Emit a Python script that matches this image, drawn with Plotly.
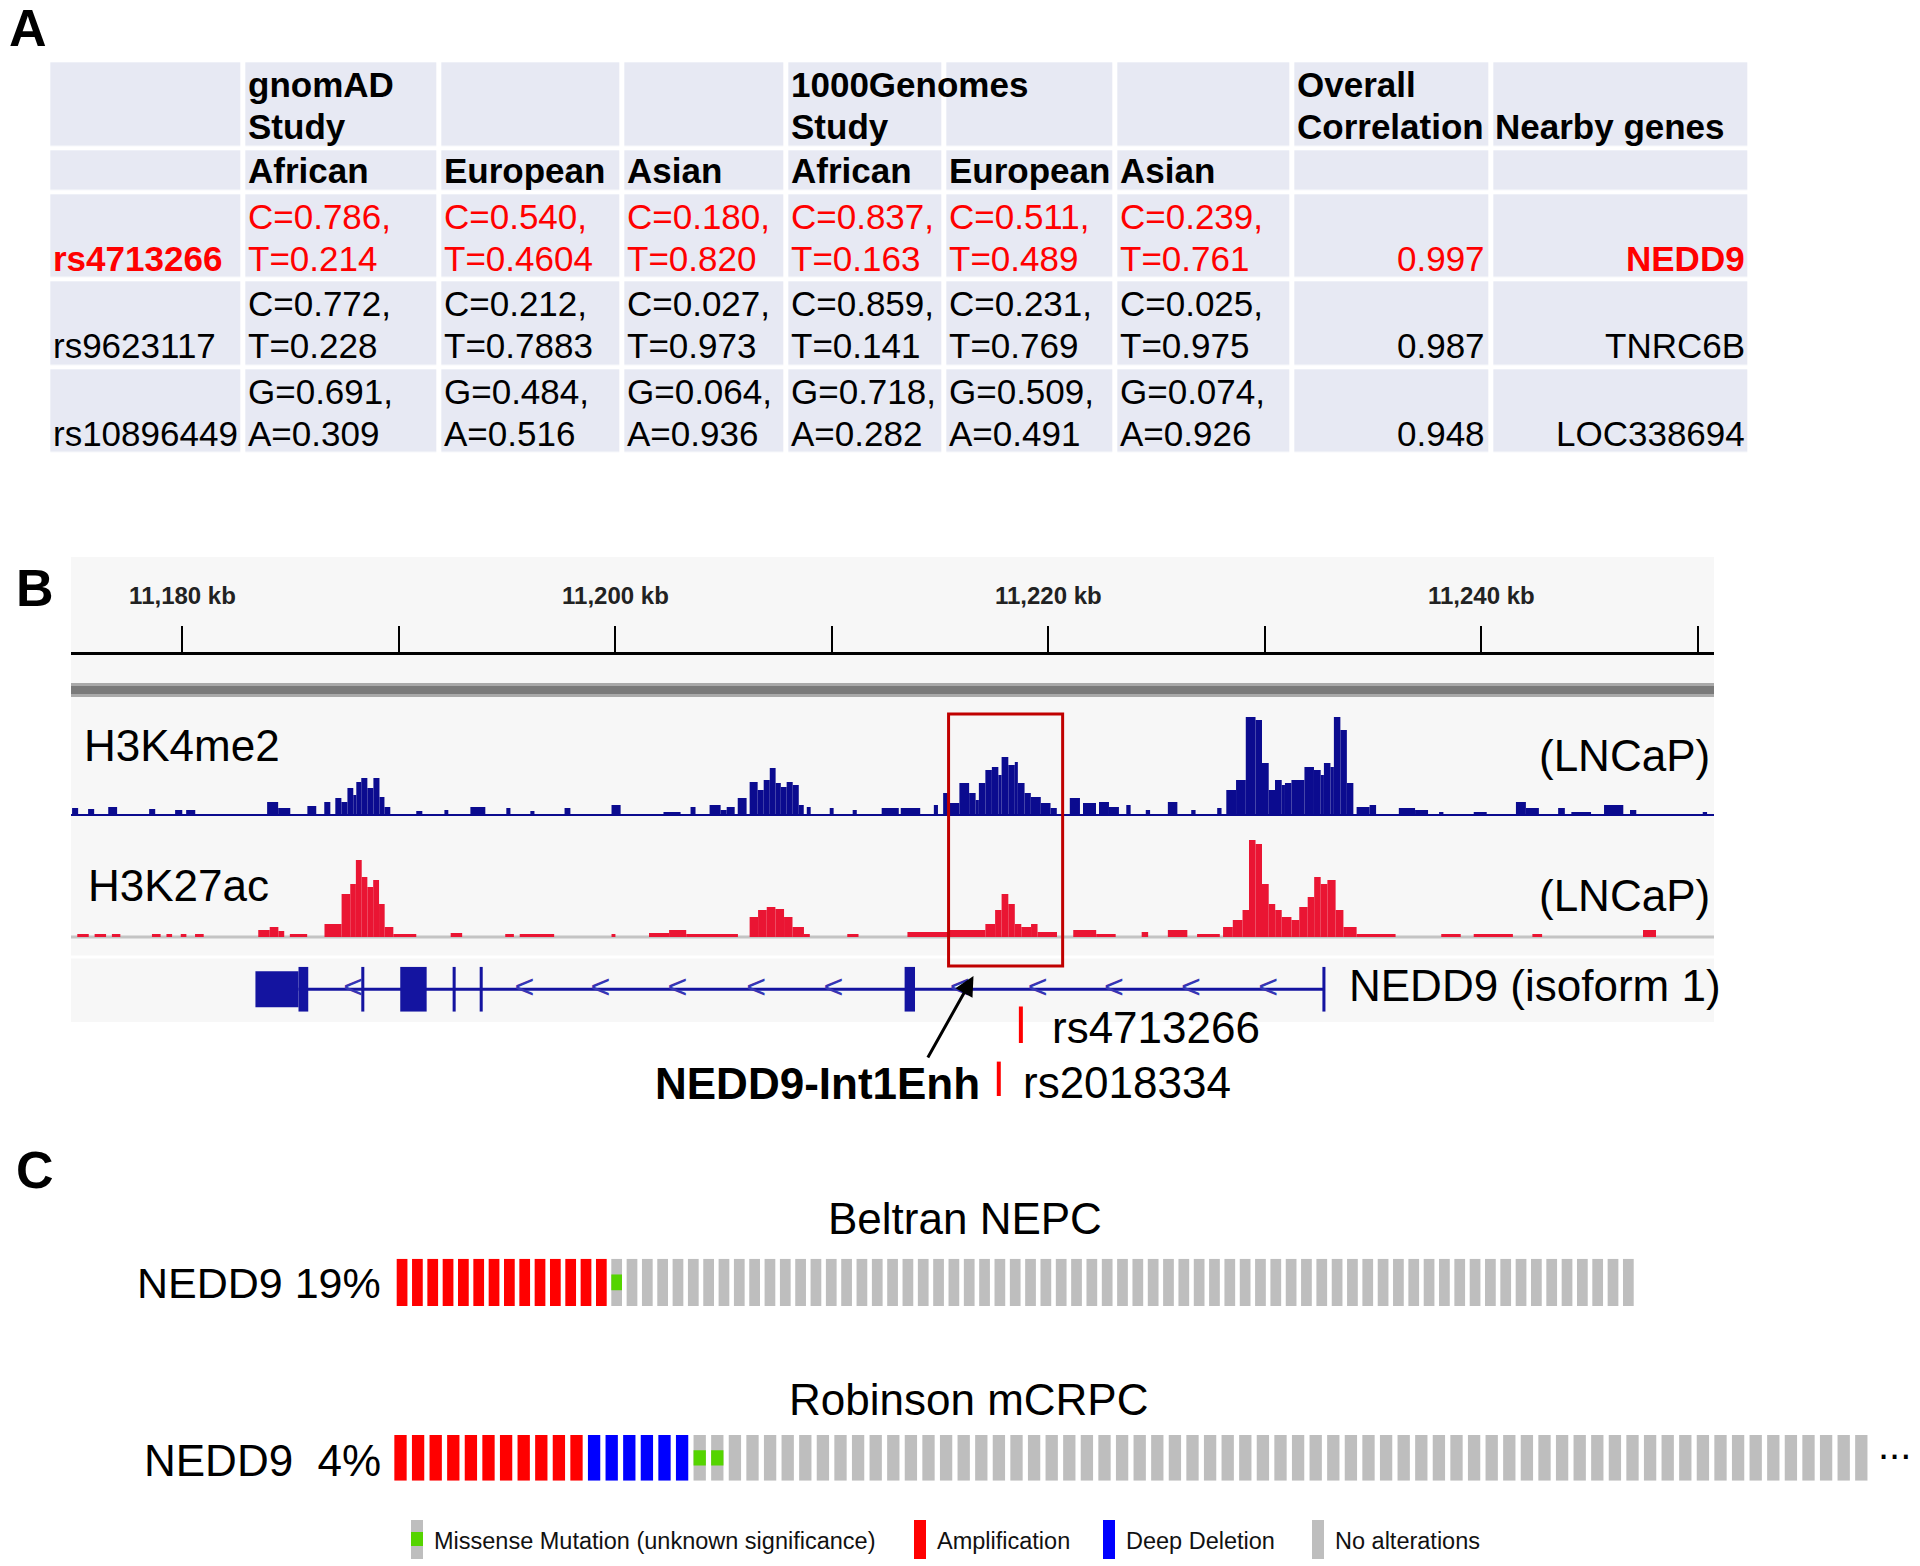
import plotly.graph_objects as go

W, H = 1920, 1566
FONT = "Liberation Sans, Arial, Helvetica, sans-serif"


def X(px):
    return px / W


def Y(py):
    return 1 - py / H


# ======================= DATA =======================
# ---- Panel A: SNP allele-frequency table ----
header_top = ["", "gnomAD\nStudy", "", "", "1000Genomes\nStudy", "", "", "Overall\nCorrelation", "Nearby genes"]
header_sub = ["", "African", "European", "Asian", "African", "European", "Asian", "", ""]
snp_ids = ["rs4713266", "rs9623117", "rs10896449"]
gnomad_african = ["C=0.786,\nT=0.214", "C=0.772,\nT=0.228", "G=0.691,\nA=0.309"]
gnomad_european = ["C=0.540,\nT=0.4604", "C=0.212,\nT=0.7883", "G=0.484,\nA=0.516"]
gnomad_asian = ["C=0.180,\nT=0.820", "C=0.027,\nT=0.973", "G=0.064,\nA=0.936"]
kg_african = ["C=0.837,\nT=0.163", "C=0.859,\nT=0.141", "G=0.718,\nA=0.282"]
kg_european = ["C=0.511,\nT=0.489", "C=0.231,\nT=0.769", "G=0.509,\nA=0.491"]
kg_asian = ["C=0.239,\nT=0.761", "C=0.025,\nT=0.975", "G=0.074,\nA=0.926"]
overall_correlation = ["0.997", "0.987", "0.948"]
nearby_genes = ["NEDD9", "TNRC6B", "LOC338694"]
highlighted_snp = "rs4713266"

# ---- Panel B: genome browser (positions in kb) ----
ruler_ticks_kb = [11180, 11190, 11200, 11210, 11220, 11230, 11240, 11250]
ruler_labels = ["11,180 kb", "", "11,200 kb", "", "11,220 kb", "", "11,240 kb", ""]

k4_start = [11174.90, 11175.64, 11176.57, 11178.46, 11179.66, 11180.17, 11183.91, 11184.42, 11185.77, 11186.55,
            11187.06, 11187.34, 11187.62, 11187.89, 11188.03, 11188.26, 11188.54, 11188.82, 11189.10, 11189.33,
            11190.80, 11192.10, 11193.30, 11194.96, 11196.07, 11197.65, 11199.82, 11202.22, 11203.47, 11204.35,
            11204.86, 11205.14, 11205.65, 11206.20, 11206.57, 11206.85, 11207.13, 11207.40, 11207.64, 11207.91,
            11208.19, 11208.47, 11208.84, 11209.90, 11210.96, 11212.30, 11213.18, 11214.71, 11215.14, 11215.44,
            11215.89, 11216.34, 11216.64, 11216.79, 11217.09, 11217.39, 11217.69, 11217.84, 11218.15, 11218.45,
            11218.59, 11218.90, 11219.19, 11219.65, 11220.10, 11220.99, 11221.60, 11222.34, 11222.80, 11223.60,
            11224.50, 11225.52, 11226.60, 11227.80, 11228.22, 11228.67, 11229.12, 11229.57, 11229.87, 11230.18,
            11230.47, 11230.78, 11230.93, 11231.23, 11231.83, 11232.27, 11232.58, 11232.73, 11233.03, 11233.19,
            11233.49, 11233.79, 11234.24, 11234.84, 11236.19, 11236.94, 11238.05, 11239.65, 11241.60, 11242.06,
            11243.55, 11244.16, 11245.67, 11246.87, 11250.23]
k4_end = [11175.18, 11175.92, 11176.98, 11178.74, 11179.99, 11180.59, 11184.42, 11184.98, 11186.18, 11186.83,
          11187.34, 11187.62, 11187.89, 11188.03, 11188.26, 11188.54, 11188.82, 11189.10, 11189.33, 11189.60,
          11191.08, 11192.28, 11193.99, 11195.15, 11196.26, 11197.92, 11200.24, 11203.01, 11203.70, 11204.86,
          11205.14, 11205.51, 11206.06, 11206.57, 11206.85, 11207.13, 11207.40, 11207.64, 11207.91, 11208.19,
          11208.47, 11208.70, 11209.02, 11210.08, 11211.15, 11213.09, 11214.08, 11214.90, 11215.44, 11215.89,
          11216.34, 11216.64, 11216.79, 11217.09, 11217.39, 11217.69, 11217.84, 11218.15, 11218.45, 11218.59,
          11218.90, 11219.19, 11219.65, 11220.10, 11220.39, 11221.46, 11222.20, 11222.80, 11223.26, 11223.80,
          11224.70, 11225.96, 11226.80, 11228.00, 11228.67, 11229.12, 11229.57, 11229.87, 11230.18, 11230.47,
          11230.78, 11230.93, 11231.23, 11231.83, 11232.27, 11232.58, 11232.73, 11233.03, 11233.19, 11233.49,
          11233.79, 11234.09, 11234.84, 11235.14, 11236.94, 11237.54, 11238.25, 11240.25, 11242.06, 11242.66,
          11243.86, 11245.07, 11246.56, 11247.16, 11250.43]
k4_signal = [7, 6, 8, 6, 5, 5, 13, 7, 9, 13,
             17, 13, 27, 20, 33, 37, 27, 37, 18, 8,
             4, 5, 8, 7, 4, 7, 10, 3, 8, 10,
             5, 8, 17, 33, 25, 35, 47, 32, 28, 33,
             30, 10, 8, 7, 5, 7, 7, 10, 22, 12,
             32, 22, 15, 32, 45, 48, 40, 58, 50, 53,
             32, 22, 18, 12, 7, 17, 12, 13, 8, 10,
             5, 13, 5, 7, 25, 35, 98, 95, 52, 25,
             35, 30, 32, 35, 48, 45, 40, 52, 48, 98,
             85, 32, 8, 10, 7, 5, 3, 3, 13, 7,
             7, 3, 10, 5, 3]

k27_start = [11175.14, 11175.94, 11176.74, 11178.59, 11179.26, 11179.92, 11180.58, 11183.50, 11184.03, 11184.43,
             11184.96, 11186.56, 11187.35, 11187.75, 11188.01, 11188.28, 11188.54, 11188.81, 11189.08, 11189.34,
             11189.74, 11192.39, 11194.91, 11195.58, 11199.82, 11201.55, 11202.48, 11203.27, 11206.20, 11206.59,
             11206.99, 11207.39, 11207.79, 11208.18, 11208.71, 11210.71, 11213.49, 11215.44, 11217.09, 11217.54,
             11217.84, 11218.15, 11218.45, 11218.75, 11219.20, 11219.50, 11221.15, 11222.21, 11224.31, 11225.52,
             11226.87, 11228.07, 11228.52, 11228.97, 11229.27, 11229.57, 11229.87, 11230.18, 11230.48, 11230.78,
             11231.23, 11231.59, 11231.98, 11232.28, 11232.58, 11232.89, 11233.27, 11233.63, 11234.24, 11238.15,
             11239.65, 11242.36, 11247.47]
k27_end = [11175.67, 11176.47, 11177.13, 11178.99, 11179.52, 11180.18, 11180.98, 11184.03, 11184.43, 11184.70,
           11185.76, 11187.35, 11187.75, 11188.01, 11188.28, 11188.54, 11188.81, 11189.08, 11189.34, 11189.74,
           11190.80, 11192.92, 11195.31, 11197.17, 11200.00, 11202.48, 11203.27, 11205.66, 11206.59, 11206.99,
           11207.39, 11207.79, 11208.18, 11208.71, 11208.98, 11211.23, 11215.44, 11217.09, 11217.54, 11217.84,
           11218.15, 11218.45, 11218.75, 11219.20, 11219.50, 11220.40, 11222.21, 11223.11, 11224.61, 11226.42,
           11227.92, 11228.52, 11228.97, 11229.27, 11229.57, 11229.87, 11230.18, 11230.48, 11230.78, 11231.23,
           11231.59, 11231.98, 11232.28, 11232.58, 11232.89, 11233.27, 11233.63, 11234.24, 11236.04, 11239.05,
           11241.46, 11242.81, 11248.07]
k27_signal = [3, 3, 3, 3, 3, 3, 3, 7, 10, 6,
              3, 13, 43, 53, 77, 60, 50, 57, 33, 10,
              3, 4, 3, 3, 3, 4, 7, 3, 20, 27,
              30, 28, 20, 10, 3, 3, 5, 7, 13, 27,
              43, 33, 13, 10, 13, 5, 7, 3, 5, 7,
              3, 10, 17, 27, 97, 93, 53, 33, 27, 20,
              17, 30, 40, 60, 53, 57, 27, 10, 3, 3,
              3, 3, 7]

gene_name = "NEDD9 (isoform 1)"
gene_start_kb, gene_end_kb = 11185.36, 11232.73
exon_start = [11183.37, 11185.36, 11188.26, 11190.06, 11192.48, 11193.73, 11213.36, 11232.66]
exon_end = [11185.36, 11185.81, 11188.40, 11191.28, 11192.62, 11193.87, 11213.84, 11232.80]
exon_is_utr = [True, False, False, False, False, False, False, False]
strand_marks_kb = [11187.88, 11195.80, 11199.31, 11202.87, 11206.50, 11210.07,
                   11215.90, 11219.51, 11223.03, 11226.59, 11230.15]
enhancer_box_kb = [11215.39, 11220.66]
snp_names = ["rs4713266", "rs2018334"]
snp_kb = [11218.73, 11217.71]

# ---- Panel C: oncoprints ----
beltran_cna = ["AMP"] * 14 + ["NONE"] * 67
beltran_missense = [14]
beltran_pct = "19%"
robinson_cna = ["AMP"] * 11 + ["HOMDEL"] * 6 + ["NONE"] * 67
robinson_missense = [17, 18]
robinson_pct = "4%"
legend_items = ["Missense Mutation (unknown significance)", "Amplification", "Deep Deletion", "No alterations"]

# ======================= STYLE =======================
CELL = "#E7E9F3"
RED = "#FF0000"
K4_BLUE = "#0B0B8F"
K27_RED = "#EA1533"
GENE_BLUE = "#1414A0"
ONC = {"AMP": "#FF0000", "HOMDEL": "#0000FF", "NONE": "#BEBEBE"}
MISSENSE = "#55D400"
FS_B = 44

fig = go.Figure()
annotations = []
shapes = []

# ======================= PANEL A =======================
col_edges = [48.3, 243.2, 439.5, 622.3, 786.4, 944.3, 1115.7, 1292.5, 1490.9, 1750.5]
row_edges = [60.3, 147.8, 192.4, 279.5, 367.0, 454.6]
GAP = 5
FS_A = 35
LINE_A = 42

n_cols = len(header_top)
rows = [header_top, header_sub]
for i in range(len(snp_ids)):
    rows.append([snp_ids[i], gnomad_african[i], gnomad_european[i], gnomad_asian[i],
                 kg_african[i], kg_european[i], kg_asian[i], overall_correlation[i], nearby_genes[i]])

fig.add_trace(go.Heatmap(
    z=[[1] * n_cols for _ in rows], x=col_edges, y=row_edges,
    colorscale=[[0, CELL], [1, CELL]], showscale=False, xgap=GAP, ygap=4.5,
    hoverinfo="skip", xaxis="x", yaxis="y"))

for r, row in enumerate(rows):
    bottom = row_edges[r + 1] - 2.25
    is_header = r < 2
    is_hl = (not is_header) and row[0] == highlighted_snp
    for c, txt in enumerate(row):
        if not txt:
            continue
        right = (not is_header) and c >= 7
        bold = is_header or (is_hl and c in (0, 8))
        color = RED if is_hl else "black"
        lines = txt.split("\n")
        for k, line in enumerate(reversed(lines)):
            base = bottom - 7 - LINE_A * k
            annotations.append(dict(
                x=(col_edges[c + 1] - GAP / 2 - 1) if right else (col_edges[c] + GAP / 2),
                y=base - 0.35 * FS_A, xref="x", yref="y",
                text=f"<b>{line}</b>" if bold else line,
                xanchor="right" if right else "left", yanchor="middle", showarrow=False,
                font=dict(family=FONT, size=FS_A, color=color)))

# ======================= PANEL B =======================
B_L, B_R = 71, 1714
KB0, KB1 = 11174.85, 11250.75

shapes.append(dict(type="rect", xref="paper", yref="paper", x0=X(B_L), x1=X(B_R), y0=Y(1022), y1=Y(557),
                   fillcolor="#F7F7F7", line=dict(width=0), layer="below"))
shapes.append(dict(type="line", xref="paper", yref="paper", x0=X(B_L), x1=X(B_R), y0=Y(957), y1=Y(957),
                   line=dict(color="white", width=3), layer="below"))
# chromosome/sequence bar
shapes.append(dict(type="rect", xref="paper", yref="paper", x0=X(B_L), x1=X(B_R), y0=Y(697), y1=Y(683),
                   fillcolor="#A9A9A9", line=dict(width=0)))
shapes.append(dict(type="rect", xref="paper", yref="paper", x0=X(B_L), x1=X(B_R), y0=Y(694), y1=Y(686),
                   fillcolor="#7A7A7A", line=dict(width=0)))
# track baselines
shapes.append(dict(type="line", xref="paper", yref="paper", x0=X(B_L), x1=X(B_R), y0=Y(815), y1=Y(815),
                   line=dict(color=K4_BLUE, width=2)))
shapes.append(dict(type="line", xref="paper", yref="paper", x0=X(B_L), x1=X(B_R), y0=Y(937), y1=Y(937),
                   line=dict(color="#C4C4C4", width=3), layer="below"))

k4_mid = [(a + b) / 2 for a, b in zip(k4_start, k4_end)]
k4_w = [b - a for a, b in zip(k4_start, k4_end)]
fig.add_trace(go.Bar(x=k4_mid, y=k4_signal, width=k4_w, marker=dict(color=K4_BLUE, line=dict(width=0)),
                     xaxis="x3", yaxis="y3", hoverinfo="skip"))
k27_mid = [(a + b) / 2 for a, b in zip(k27_start, k27_end)]
k27_w = [b - a for a, b in zip(k27_start, k27_end)]
fig.add_trace(go.Bar(x=k27_mid, y=k27_signal, width=k27_w, marker=dict(color=K27_RED, line=dict(width=0)),
                     xaxis="x4", yaxis="y4", hoverinfo="skip"))

# gene model
fig.add_trace(go.Scatter(x=[gene_start_kb, gene_end_kb], y=[0, 0], mode="lines",
                         line=dict(color=GENE_BLUE, width=3), xaxis="x5", yaxis="y5", hoverinfo="skip"))
ex_mid = [(a + b) / 2 for a, b in zip(exon_start, exon_end)]
ex_w = [b - a for a, b in zip(exon_start, exon_end)]
ex_h = [1.6 if u else 2.0 for u in exon_is_utr]
ex_base = [-0.8 if u else -1.0 for u in exon_is_utr]
fig.add_trace(go.Bar(x=ex_mid, y=ex_h, base=ex_base, width=ex_w,
                     marker=dict(color=GENE_BLUE, line=dict(width=0)), xaxis="x5", yaxis="y5", hoverinfo="skip"))
fig.add_trace(go.Scatter(x=strand_marks_kb, y=[0] * len(strand_marks_kb), mode="text",
                         text=["<"] * len(strand_marks_kb),
                         textfont=dict(family=FONT, size=34, color="#3535B5"), xaxis="x5", yaxis="y5",
                         hoverinfo="skip"))

# enhancer box
shapes.append(dict(type="rect", xref="x2", yref="paper", x0=enhancer_box_kb[0], x1=enhancer_box_kb[1],
                   y0=Y(966), y1=Y(714), line=dict(color="#C00000", width=3), fillcolor="rgba(0,0,0,0)"))
# SNP ticks
snp_y = [(1006.5, 1043), (1061.6, 1096)]
for kb, (ya, yb) in zip(snp_kb, snp_y):
    shapes.append(dict(type="line", xref="x2", yref="paper", x0=kb, x1=kb, y0=Y(yb), y1=Y(ya),
                       line=dict(color=RED, width=4)))
annotations.append(dict(x=X(1050), y=Y(1027), xref="paper", yref="paper", text=snp_names[0], showarrow=False,
                        xanchor="left", yanchor="middle", font=dict(family=FONT, size=FS_B, color="black")))
annotations.append(dict(x=X(1021), y=Y(1082), xref="paper", yref="paper", text=snp_names[1], showarrow=False,
                        xanchor="left", yanchor="middle", font=dict(family=FONT, size=FS_B, color="black")))
annotations.append(dict(x=X(982), y=Y(1083), xref="paper", yref="paper", text="<b>NEDD9-Int1Enh</b>",
                        showarrow=False, xanchor="right", yanchor="middle",
                        font=dict(family=FONT, size=FS_B, color="black")))
annotations.append(dict(x=X(973.5), y=Y(976), xref="paper", yref="paper", text="", showarrow=True,
                        ax=-46.5, ay=83, arrowhead=2, arrowsize=1.3, arrowwidth=3, arrowcolor="black",
                        standoff=0))

# track labels
for txt, xx, yy, anc in [("H3K4me2", 82, 746, "left"), ("(LNCaP)", 1712, 755, "right"),
                         ("H3K27ac", 86, 885, "left"), ("(LNCaP)", 1712, 895, "right"),
                         (gene_name, 1347, 985, "left")]:
    annotations.append(dict(x=X(xx), y=Y(yy), xref="paper", yref="paper", text=txt, showarrow=False,
                            xanchor=anc, yanchor="middle", font=dict(family=FONT, size=FS_B, color="black")))


# ======================= PANEL C =======================
def oncoprint(cna, missense, xa, ya):
    idx = list(range(len(cna)))
    fig.add_trace(go.Bar(x=idx, y=[3] * len(cna), width=0.7,
                         marker=dict(color=[ONC[v] for v in cna], line=dict(width=0)),
                         xaxis=xa, yaxis=ya, hoverinfo="skip"))
    fig.add_trace(go.Bar(x=missense, y=[1] * len(missense), base=[1] * len(missense), width=0.7,
                         marker=dict(color=MISSENSE, line=dict(width=0)),
                         xaxis=xa, yaxis=ya, hoverinfo="skip"))


oncoprint(beltran_cna, beltran_missense, "x6", "y6")
oncoprint(robinson_cna, robinson_missense, "x7", "y7")

for txt, xx, yy in [("Beltran NEPC", 965, 1218), ("Robinson mCRPC", 968, 1399)]:
    annotations.append(dict(x=X(xx), y=Y(yy), xref="paper", yref="paper", text=txt, showarrow=False,
                            xanchor="center", yanchor="middle", font=dict(family=FONT, size=FS_B, color="black")))
annotations.append(dict(x=X(383), y=Y(1283), xref="paper", yref="paper", text="NEDD9 " + beltran_pct,
                        showarrow=False, xanchor="right", yanchor="middle",
                        font=dict(family=FONT, size=43, color="black")))
annotations.append(dict(x=X(383), y=Y(1460), xref="paper", yref="paper", text="NEDD9  " + robinson_pct,
                        showarrow=False, xanchor="right", yanchor="middle",
                        font=dict(family=FONT, size=44, color="black")))
annotations.append(dict(x=X(1876), y=Y(1445), xref="paper", yref="paper", text="...",
                        showarrow=False, xanchor="left", yanchor="middle",
                        font=dict(family=FONT, size=40, color="black")))

# legend
leg_icon_x = [411, 914, 1103, 1312]
leg_colors = [ONC["NONE"], ONC["AMP"], ONC["HOMDEL"], ONC["NONE"]]
for name, ix, col in zip(legend_items, leg_icon_x, leg_colors):
    shapes.append(dict(type="rect", xref="paper", yref="paper", x0=X(ix), x1=X(ix + 12), y0=Y(1559), y1=Y(1520),
                       fillcolor=col, line=dict(width=0)))
    annotations.append(dict(x=X(ix + 21), y=Y(1541), xref="paper", yref="paper", text=name, showarrow=False,
                            xanchor="left", yanchor="middle", font=dict(family=FONT, size=23.5, color="#111111")))
shapes.append(dict(type="rect", xref="paper", yref="paper", x0=X(411), x1=X(423), y0=Y(1546), y1=Y(1532),
                   fillcolor=MISSENSE, line=dict(width=0)))

# panel letters
for letter, xx, yy in [("A", 7, 28), ("B", 14, 588), ("C", 14, 1170)]:
    annotations.append(dict(x=X(xx), y=Y(yy), xref="paper", yref="paper", text=f"<b>{letter}</b>",
                            showarrow=False, xanchor="left", yanchor="middle",
                            font=dict(family=FONT, size=52, color="black")))

# ======================= LAYOUT =======================
hidden = dict(visible=False, fixedrange=True, showgrid=False, zeroline=False)
layout = dict(
    width=W, height=H, margin=dict(l=0, r=0, t=0, b=0), paper_bgcolor="white", plot_bgcolor="rgba(0,0,0,0)",
    showlegend=False, barmode="overlay", annotations=annotations, shapes=shapes,
    xaxis=dict(hidden, domain=[0, 1], range=[0, W]),
    yaxis=dict(hidden, domain=[0, 1], range=[H, 0]),
    xaxis2=dict(domain=[X(B_L), X(B_R)], range=[KB0, KB1], anchor="y2", side="top",
                tickmode="array", tickvals=ruler_ticks_kb,
                ticktext=[f"<b>{t}</b>" if t else "" for t in ruler_labels],
                ticks="outside", ticklen=26, tickwidth=2, tickcolor="black",
                showline=True, linewidth=3, linecolor="black", showgrid=False, zeroline=False,
                ticklabelstandoff=12, tickfont=dict(family=FONT, size=24, color="#222222"), fixedrange=True),
    yaxis2=dict(hidden, domain=[Y(700), Y(655)], range=[0, 1], anchor="x2"),
    xaxis3=dict(hidden, domain=[X(B_L), X(B_R)], range=[KB0, KB1], anchor="y3"),
    yaxis3=dict(hidden, domain=[Y(815), Y(715)], range=[0, 100], anchor="x3"),
    xaxis4=dict(hidden, domain=[X(B_L), X(B_R)], range=[KB0, KB1], anchor="y4"),
    yaxis4=dict(hidden, domain=[Y(937), Y(837)], range=[0, 100], anchor="x4"),
    xaxis5=dict(hidden, domain=[X(B_L), X(B_R)], range=[KB0, KB1], anchor="y5"),
    yaxis5=dict(hidden, domain=[Y(1011.7), Y(966.7)], range=[-1, 1], anchor="x5"),
    xaxis6=dict(hidden, domain=[X(394.4), X(1636)], range=[-0.5, len(beltran_cna) - 0.5], anchor="y6"),
    yaxis6=dict(hidden, domain=[Y(1306), Y(1258.7)], range=[0, 3], anchor="x6"),
    xaxis7=dict(hidden, domain=[X(391.7), X(1870.1)], range=[-0.5, len(robinson_cna) - 0.5], anchor="y7"),
    yaxis7=dict(hidden, domain=[Y(1480.7), Y(1435)], range=[0, 3], anchor="x7"),
)
fig.update_layout(**layout)
fig.write_html("out.html", config={"displayModeBar": False},
               post_script="document.body.style.margin='0px';document.body.style.padding='0px';")
